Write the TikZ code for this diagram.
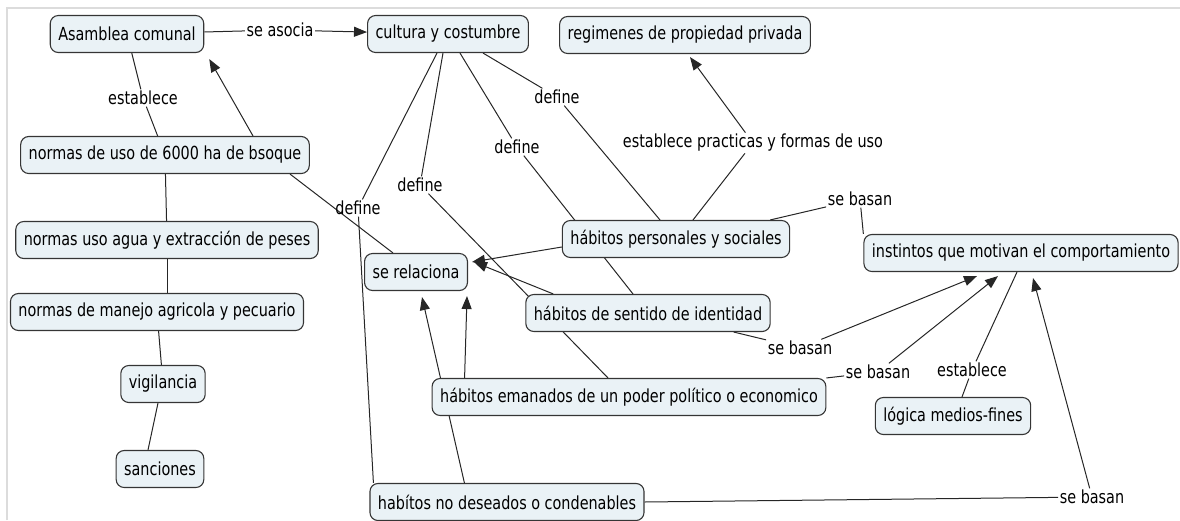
\documentclass[tikz,border=0pt]{standalone}
\usepackage{fontspec}
\setmainfont{DejaVu Sans}[FakeStretch=0.8]
\usetikzlibrary{arrows.meta,backgrounds}
\definecolor{boxfill}{HTML}{EAF2F6}
\definecolor{boxline}{HTML}{353535}
\definecolor{framegray}{HTML}{DCDCDC}

\begin{document}
\begin{tikzpicture}[x=1pt, y=-1pt,
		font=\fontsize{18}{20}\selectfont,
		concept/.style={draw=boxline, fill=boxfill, rounded corners=8pt, line width=1.1pt, inner xsep=8pt, minimum height=37pt},
		phrase/.style={inner sep=1.5pt},
		conn/.style={line width=1pt, draw=black!85},
		arr/.style={conn, -{Triangle[length=13pt,width=10pt]}}]
		\useasboundingbox (0,0) rectangle (1180,520);
		\draw[framegray, line width=2pt] (7,520) -- (7,8) -- (1180,8);
		
		% Define left column
		\node[concept] (Asamblea) at (127,34) {Asamblea comunal};
		\node[concept] (Normas6000) at (165,155) {normas de uso de 6000 ha de bsoque};
		\node[concept] (NormasAgua) at (167,240) {normas uso agua y extracción de peses};
		\node[concept] (NormasManejo) at (157,312) {normas de manejo agricola y pecuario};
		\node[concept] (Vigilancia) at (163,384) {vigilancia};
		\node[concept] (Sanciones) at (160,469) {sanciones};
		\node[phrase] (SeAsocia) at (280,30) {se asocia};
		\node[phrase] (Establece1) at (143,98) {establece};
		
		% Define cultura y habitos
		\node[concept] (Cultura) at (448,34) {cultura y costumbre};
		\node[concept] (Regimenes) at (685,35) {regimenes de propiedad privada};
		\node[concept] (SeRelaciona) at (416,272) {se relaciona};
		\node[concept] (Personales) at (676,239) {hábitos personales y sociales};
		\node[concept] (Identidad) at (648,313) {hábitos de sentido de identidad};
		\node[concept] (Emanados) at (629,397) {hábitos emanados de un poder político o economico};
		\node[concept] (NoDeseados) at (507,502) {habítos no deseados o condenables};
		\node[phrase] (Define1) at (358,208) {define};
		\node[phrase] (Define2) at (420,185) {define};
		\node[phrase] (Define3) at (517,147) {define};
		\node[phrase] (Define4) at (557,97) {define};
		\node[phrase] (Practicas) at (753,143) {establece practicas y formas de uso};
		
		% Define instintos
		\node[concept] (Instintos) at (1021,253) {instintos que motivan el comportamiento};
		\node[concept] (Logica) at (953,416) {lógica medios-fines};
		\node[phrase] (SeBasan1) at (860,199) {se basan};
		\node[phrase] (SeBasan2) at (800,348) {se basan};
		\node[phrase] (SeBasan3) at (878,372) {se basan};
		\node[phrase] (Establece2) at (972,370) {establece};
		\node[phrase] (SeBasan4) at (1092,497) {se basan};
		
		\begin{scope}[on background layer]
			% left column
			\draw[conn] (Asamblea) -- (SeAsocia);
			\draw[arr] (SeAsocia) -- (Cultura);
			\draw[conn] (Asamblea) -- (Establece1);
			\draw[conn] (Establece1) -- (Normas6000);
			\draw[arr] ([xshift=88pt]Normas6000.north) -- ([xshift=5pt,yshift=-6pt]Asamblea.south east);
			\draw[conn] (Normas6000) -- (NormasAgua);
			\draw[conn] (NormasAgua.south) -- (NormasAgua.south |- NormasManejo.north);
			\draw[conn] (NormasManejo) -- (Vigilancia);
			\draw[conn] ([xshift=-5pt]Vigilancia.south) -- ([xshift=-12pt]Sanciones.north);
			\draw[conn] ([xshift=125pt]Normas6000.south) -- ([xshift=-23pt]SeRelaciona.north);
			
			% define
			\draw[conn] ([xshift=-11pt]Cultura.south) -- (Define1);
			\draw[conn] (Define1) -- ([xshift=4pt]NoDeseados.north west);
			\draw[conn] ([xshift=-5pt]Cultura.south) -- (Define2);
			\draw[conn] (Define2) -- ([xshift=-21pt]Emanados.north);
			\draw[conn] ([xshift=12pt]Cultura.south) -- (Define3);
			\draw[conn] (Define3) -- ([xshift=-15pt]Identidad.north);
			\draw[conn] ([xshift=35pt]Cultura.south) -- (Define4);
			\draw[conn] (Define4) -- ([xshift=-16pt]Personales.north);
			\draw[conn] ([xshift=17pt]Personales.north) -- (Practicas);
			\draw[arr] (Practicas) -- ([xshift=5pt,yshift=-3pt]Regimenes.south);
			
			% se relaciona
			\draw[arr] ([yshift=-8pt]Personales.west) -- ([xshift=4pt,yshift=10pt]SeRelaciona.east);
			\draw[arr] ([xshift=28pt]Identidad.north west) -- ([xshift=6pt,yshift=10pt]SeRelaciona.east);
			\draw[arr] ([xshift=33pt]Emanados.north west) -- ([xshift=-1pt,yshift=-5pt]SeRelaciona.south east);
			\draw[arr] ([xshift=95pt]NoDeseados.north west) -- ([xshift=6pt,yshift=-6pt]SeRelaciona.south);
			
			% se basan
			\draw[conn] ([xshift=-20pt]Personales.north east) -- (SeBasan1);
			\draw[conn] (SeBasan1) -- (Instintos.north west);
			\draw[conn] ([xshift=-37pt]Identidad.south east) -- (SeBasan2);
			\draw[arr] (SeBasan2) -- ([xshift=-44pt,yshift=-4pt]Instintos.south);
			\draw[conn] (Emanados.north east) -- (SeBasan3);
			\draw[arr] (SeBasan3) -- ([xshift=-23pt,yshift=-4pt]Instintos.south);
			\draw[conn] ([xshift=9pt]Logica.north) -- (Establece2);
			\draw[conn] (Establece2) -- ([xshift=-4pt]Instintos.south);
			\draw[conn] (NoDeseados.east) -- (SeBasan4);
			\draw[arr] (SeBasan4) -- ([xshift=12pt,yshift=-6pt]Instintos.south);
		\end{scope}
	\end{tikzpicture}
\end{document}
